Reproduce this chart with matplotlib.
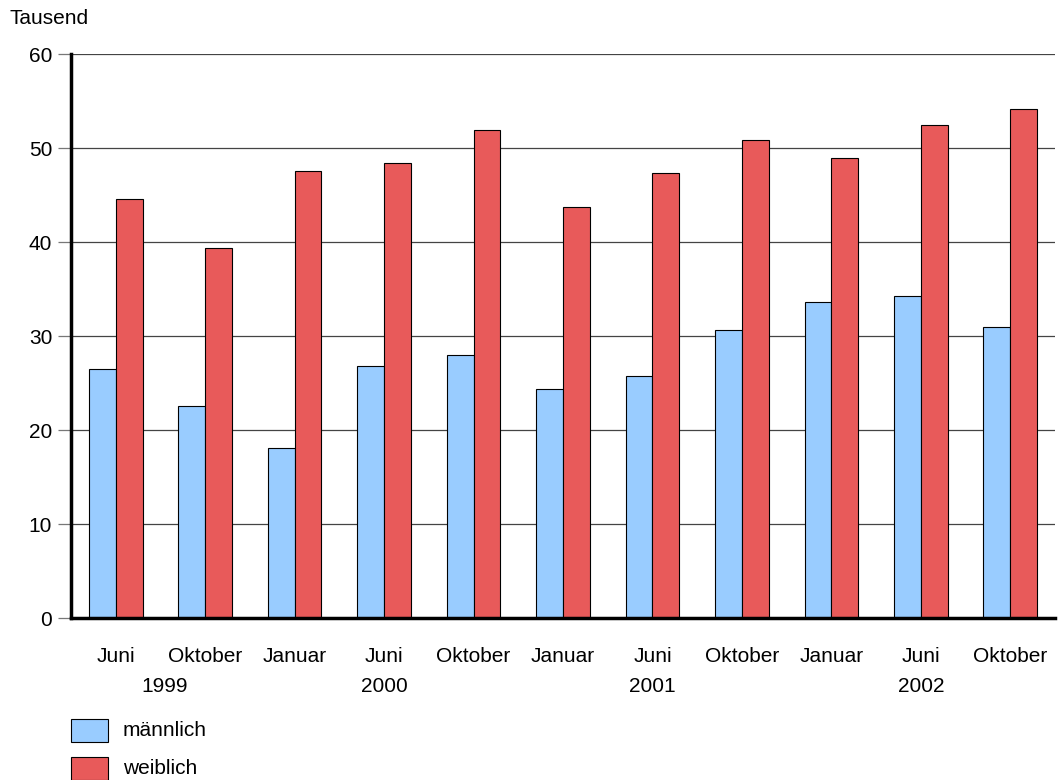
import matplotlib
matplotlib.use("Agg")
import matplotlib.pyplot as plt
import numpy as np
from matplotlib.patches import Rectangle

plt.rcParams['font.family'] = ['Liberation Sans', 'DejaVu Sans']

months = ["Juni", "Oktober", "Januar", "Juni", "Oktober", "Januar",
          "Juni", "Oktober", "Januar", "Juni", "Oktober"]
years = ["1999", "2000", "2001", "2002"]
year_pos = [0.55, 3, 6, 9]
maennlich = [26.5, 22.6, 18.1, 26.8, 28.0, 24.4, 25.7, 30.6, 33.6, 34.3, 31.0]
weiblich = [44.6, 39.4, 47.6, 48.4, 51.9, 43.7, 47.3, 50.8, 48.9, 52.4, 54.1]
labels = ["männlich", "weiblich"]

blue = "#99CCFF"
red = "#E85A5A"
fs = 15

W, H = 1059, 780
fig = plt.figure(figsize=(W/100, H/100), dpi=100)
ax = fig.add_axes([71/W, 162/H, (1055-71)/W, (618-54)/H])

x = np.arange(len(months))
w = 0.30
ax.bar(x - w/2, maennlich, w, color=blue, edgecolor="black", linewidth=0.8, zorder=3)
ax.bar(x + w/2, weiblich, w, color=red, edgecolor="black", linewidth=0.8, zorder=3)

ax.set_xlim(-0.5, len(months) - 0.5)
ax.set_ylim(0, 60)
ax.set_yticks(range(0, 61, 10))
ax.yaxis.grid(True, color="#444444", linewidth=0.9, zorder=0)
ax.tick_params(axis='y', length=9.5, width=0.9, color="#777777", pad=4, labelsize=fs)
ax.set_xticks(x)
ax.set_xticklabels(months, fontsize=fs)
ax.tick_params(axis='x', length=0, pad=21)

for s in ["top", "right"]:
    ax.spines[s].set_visible(False)
ax.spines["left"].set_linewidth(2.5)
ax.spines["bottom"].set_linewidth(2.5)
ax.spines["left"].set_zorder(4)
ax.spines["bottom"].set_zorder(4)

for yl, yp in zip(years, year_pos):
    ax.annotate(yl, xy=(yp, 0), xycoords=("data", "axes fraction"),
                xytext=(0, -69), textcoords="offset pixels",
                ha="center", va="center", fontsize=fs)

fig.text(10/W, 1 - 19/H, "Tausend", fontsize=fs, ha="left", va="center")

# legend
for col, lab, ytop in zip([blue, red], labels, [719, 757]):
    fig.patches.append(Rectangle((71/W, 1 - (ytop + 23)/H), 37/W, 23/H,
                                 transform=fig.transFigure, facecolor=col,
                                 edgecolor="black", linewidth=0.8))
    fig.text(123/W, 1 - (ytop + 12)/H, lab, fontsize=fs, ha="left", va="center")

fig.savefig("out.png", dpi=100)
